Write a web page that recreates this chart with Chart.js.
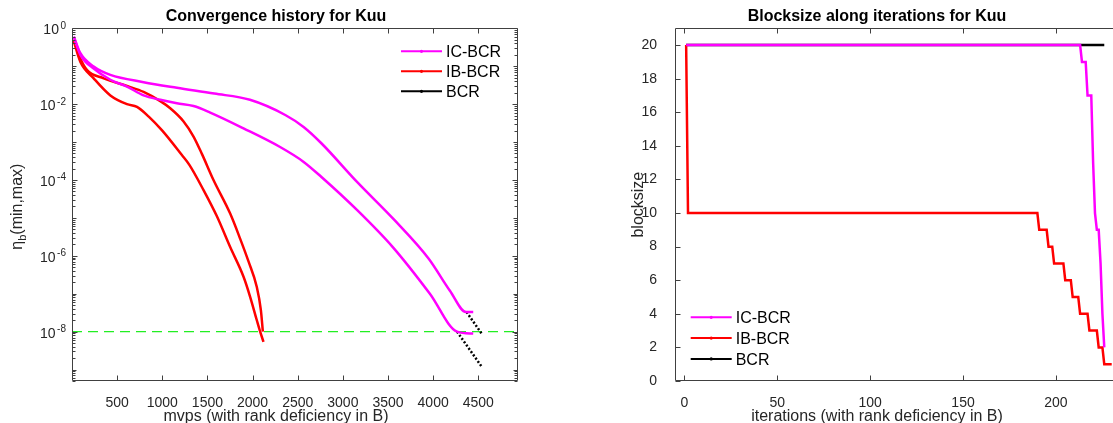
<!DOCTYPE html>
<html>
<head>
<meta charset="utf-8">
<title>Kuu: convergence history and blocksize</title>
<script src="https://cdn.jsdelivr.net/npm/chart.js@4.4.1/dist/chart.umd.min.js"></script>
<style>
  html, body { margin: 0; padding: 0; background: #fff; }
  body { width: 1113px; height: 423px; overflow: hidden; position: relative; }
  canvas { position: absolute; top: 0; }
  #conv { left: 0; }
  #block { left: 603px; }
</style>
</head>
<body>
<canvas id="conv" width="560" height="423"></canvas>
<canvas id="block" width="560" height="423"></canvas>
<script>
// left panel: eta_b (min and max) against mvps
const icMaxMvps = [20, 93, 240, 425, 793, 1162, 1576, 1971, 2367, 2565, 2762, 3157, 3573, 3949, 4186, 4364, 4444];
const icMaxEta = [0.6, 0.22, 0.098, 0.059, 0.038, 0.027, 0.019, 0.013, 5.1e-3, 2.5e-3, 9.3e-4, 8.9e-5, 8.7e-6, 8.5e-7, 1.2e-7, 3.3e-8, 3.3e-8];
const icMinMvps = [20, 93, 240, 425, 609, 793, 978, 1162, 1346, 1531, 1900, 2305, 2566, 2763, 3159, 3553, 3964, 4265, 4444];
const icMinEta = [0.6, 0.2, 0.087, 0.044, 0.029, 0.017, 0.013, 0.0105, 8.9e-3, 6.0e-3, 2.3e-3, 7.4e-4, 3.0e-4, 1.2e-4, 1.6e-5, 1.7e-6, 1.0e-7, 1.0e-8, 8.9e-9];

const ibMaxMvps = [20, 93, 167, 351, 609, 793, 978, 1088, 1236, 1346, 1440, 1567, 1752, 1863, 1955, 2047, 2092, 2114];
const ibMaxEta = [0.5, 0.16, 0.079, 0.048, 0.030, 0.021, 0.012, 7.8e-3, 3.5e-3, 1.4e-3, 4.8e-4, 1.0e-4, 1.3e-5, 2.8e-6, 7.1e-7, 1.5e-7, 3.7e-8, 1.0e-8];
const ibMinMvps = [20, 93, 240, 425, 609, 720, 850, 1000, 1215, 1300, 1457, 1605, 1752, 1900, 1973, 2047, 2084, 2121];
const ibMinEta = [0.45, 0.13, 0.048, 0.017, 0.010, 8.5e-3, 4.7e-3, 2.0e-3, 4.6e-4, 2.5e-4, 5.4e-5, 1.1e-5, 1.7e-6, 2.8e-7, 8.3e-8, 2.0e-8, 1.0e-8, 5.4e-9];

const bcrMaxMvps = [4370, 4537];
const bcrMaxEta = [3.3e-8, 8.9e-9];
const bcrMinMvps = [4265, 4537];
const bcrMinEta = [1.0e-8, 1.2e-9];

const tolMvps = [0, 4940];
const tolEta = [1e-8, 1e-8];

const convXTicks = [500, 1000, 1500, 2000, 2500, 3000, 3500, 4000, 4500];
const convYTicks = [1, 1e-2, 1e-4, 1e-6, 1e-8];

// right panel: blocksize per iteration (corner points of the steps)
const icIter = [1, 213, 214, 216, 217, 219, 220, 221, 222, 223, 224, 225, 226];
const icSize = [20, 20, 19, 19, 17, 17, 13, 10, 9, 9, 7, 4, 2];
const ibIter = [1, 2, 190, 191, 195, 196, 198, 199, 204, 205, 208, 209, 212, 213, 217, 218, 222, 223, 225, 226, 230];
const ibSize = [20, 10, 10, 9, 9, 8, 8, 7, 7, 6, 6, 5, 5, 4, 4, 3, 3, 2, 2, 1, 1];
const bcrIter = [1, 226];
const bcrSize = [20, 20];

const blockXTicks = [0, 50, 100, 150, 200];
const blockYTicks = [0, 2, 4, 6, 8, 10, 12, 14, 16, 18, 20];

const FONT = '"Liberation Sans", Arial, Helvetica, sans-serif';
const MAGENTA = "#ff00ff";
const RED = "#ff0000";
const BLACK = "#000000";
const AXIS = "#262626";

Chart.defaults.font.family = FONT;
Chart.defaults.color = AXIS;
Chart.defaults.animation = false;

const pts = (xs, ys) => xs.map((x, i) => ({ x, y: ys[i] }));

// box round the axes with inward ticks on all four sides
const framePlugin = {
  id: "frame",
  afterDatasetsDraw(chart, args, opts) {
    const { ctx, chartArea: a, scales } = chart;
    const L = Math.round(a.left) + 0.5;
    const R = Math.round(a.right) - 0.5;
    const T = Math.round(a.top) + 0.5;
    const B = Math.round(a.bottom) - 0.5;
    ctx.save();
    ctx.strokeStyle = opts.color;
    ctx.lineWidth = 1;
    ctx.beginPath();
    ctx.rect(L, T, R - L, B - T);

    for (const t of scales.x.ticks) {
      const px = Math.round(scales.x.getPixelForValue(t.value)) + 0.5;
      ctx.moveTo(px, B); ctx.lineTo(px, B - opts.major);
      ctx.moveTo(px, T); ctx.lineTo(px, T + opts.major);
    }

    const y = scales.y;
    const yTick = (v, len) => {
      const py = Math.round(y.getPixelForValue(v)) + 0.5;
      ctx.moveTo(L, py); ctx.lineTo(L + len, py);
      ctx.moveTo(R, py); ctx.lineTo(R - len, py);
    };
    if (y.type === "logarithmic") {
      const e0 = Math.floor(Math.log10(y.min));
      const e1 = Math.ceil(Math.log10(y.max));
      for (let e = e0; e <= e1; e += 1) {
        for (let k = 1; k <= 9; k += 1) {
          const v = k * Math.pow(10, e);
          if (v < y.min || v > y.max) continue;
          yTick(v, k === 1 ? (e % 2 === 0 ? opts.major : opts.mid) : opts.minor);
        }
      }
    } else {
      for (const t of y.ticks) yTick(t.value, opts.major);
    }
    ctx.stroke();
    ctx.restore();
  }
};

// 10^k labels with a real raised exponent, placed by the log scale
const powerTicks = {
  id: "powerTicks",
  afterDraw(chart, args, opts) {
    if (!opts.display) return;
    const { ctx, chartArea: a, scales } = chart;
    ctx.save();
    ctx.fillStyle = AXIS;
    ctx.textBaseline = "alphabetic";
    for (const t of scales.y.ticks) {
      const py = scales.y.getPixelForValue(t.value);
      const exp = String(Math.round(Math.log10(t.value)));
      ctx.font = `10px ${FONT}`;
      const wExp = ctx.measureText(exp).width;
      ctx.textAlign = "right";
      const right = a.left - opts.gap;
      ctx.fillText(exp, right, py + 0.5);
      ctx.font = `14px ${FONT}`;
      ctx.fillText("10", right - wExp - 1.5, py + 6);
    }
    ctx.restore();
  }
};

// title and x label, centred where the reference puts them
const captions = {
  id: "captions",
  afterDraw(chart, args, opts) {
    const { ctx, chartArea: a } = chart;
    const cx = (a.left + a.right) / 2 + opts.dx;
    ctx.save();
    ctx.textAlign = "center";
    ctx.textBaseline = "alphabetic";
    ctx.fillStyle = "#000";
    ctx.font = `bold 16px ${FONT}`;
    ctx.fillText(opts.title, cx, 20.7);
    ctx.fillStyle = AXIS;
    ctx.font = `16px ${FONT}`;
    ctx.fillText(opts.xlabel, cx, 421.3);
    ctx.restore();
  }
};

// legend drawn inside the axes, line sample with a dot in the middle
const lineLegend = {
  id: "lineLegend",
  afterDraw(chart, args, opts) {
    const { ctx, chartArea: a } = chart;
    const x0 = opts.fromRight ? a.right - opts.x : a.left + opts.x;
    const y0 = opts.fromBottom ? a.bottom - opts.y : a.top + opts.y;
    const items = chart.data.datasets.filter((d) => d.inLegend);
    ctx.save();
    ctx.font = `16px ${FONT}`;
    ctx.textBaseline = "alphabetic";
    items.forEach((d, i) => {
      const yy = y0 + i * opts.gap;
      ctx.strokeStyle = d.borderColor;
      ctx.lineWidth = 2;
      ctx.beginPath();
      ctx.moveTo(x0, yy);
      ctx.lineTo(x0 + 41, yy);
      ctx.stroke();
      ctx.fillStyle = d.borderColor;
      ctx.beginPath();
      ctx.arc(x0 + 20.5, yy, 1.6, 0, Math.PI * 2);
      ctx.fill();
      ctx.fillStyle = "#000";
      ctx.fillText(d.label, x0 + 45, yy + 5.8);
    });
    ctx.restore();
  }
};

// y label with a subscript: eta_b(min,max)
const etaLabel = {
  id: "etaLabel",
  afterDraw(chart, args, opts) {
    if (!opts.display) return;
    const { ctx, chartArea: a } = chart;
    const big = `16px ${FONT}`;
    const small = `11px ${FONT}`;
    ctx.save();
    ctx.font = big;
    const wEta = ctx.measureText("\u03b7").width;
    const wRest = ctx.measureText("(min,max)").width;
    ctx.font = small;
    const wSub = ctx.measureText("b").width;
    const total = wEta + wSub + wRest;
    ctx.translate(opts.x, (a.top + a.bottom) / 2 + opts.dy);
    ctx.rotate(-Math.PI / 2);
    ctx.fillStyle = AXIS;
    ctx.textBaseline = "alphabetic";
    let x = -total / 2;
    ctx.font = big;
    ctx.fillText("\u03b7", x, 5.5);
    x += wEta;
    ctx.font = small;
    ctx.fillText("b", x, 9.5);
    x += wSub;
    ctx.font = big;
    ctx.fillText("(min,max)", x, 5.5);
    ctx.restore();
  }
};

const tickFont = { family: FONT, size: 14 };
const labelFont = { family: FONT, size: 16, lineHeight: 1.2 };

const setTicks = (values) => (scale) => {
  scale.ticks = values.map((v) => ({ value: v }));
};

const baseOptions = (captionOpts, legendOpts) => ({
  responsive: false,
  animation: false,
  layout: { padding: { left: 0, right: 42, top: 28.3, bottom: 0 } },
  plugins: {
    legend: { display: false },
    tooltip: { enabled: false },
    title: { display: false },
    frame: { color: "#404040", major: 5, mid: 4, minor: 3 },
    captions: captionOpts,
    lineLegend: legendOpts,
    etaLabel: { display: false },
    powerTicks: { display: false }
  }
});

const curve = (label, color, xs, ys, extra = {}) => ({
  label,
  data: pts(xs, ys),
  borderColor: color,
  backgroundColor: color,
  borderWidth: 2.5,
  pointRadius: 0,
  fill: false,
  ...extra
});

const convOptions = baseOptions(
  { title: "Convergence history for Kuu", xlabel: "mvps (with rank deficiency in B)", dx: -19 },
  { fromRight: true, x: 117, y: 23, gap: 20 }
);
convOptions.plugins.etaLabel = { display: true, x: 16, dy: 2 };
convOptions.plugins.powerTicks = { display: true, gap: 6 };
convOptions.scales = {
  x: {
    type: "linear",
    min: 0,
    max: 4940,
    afterBuildTicks: setTicks(convXTicks),
    afterFit: (s) => { s.height = 42; },
    grid: { display: false },
    border: { display: false },
    ticks: { font: tickFont, padding: 6, maxRotation: 0, autoSkip: false, callback: (v) => String(v) }
  },
  y: {
    type: "logarithmic",
    min: 5e-10,
    max: 1,
    afterBuildTicks: setTicks(convYTicks),
    afterFit: (s) => { s.width = 72; },
    grid: { display: false },
    border: { display: false },
    ticks: { display: false }
  }
};

new Chart(document.getElementById("conv"), {
  type: "line",
  data: {
    datasets: [
      curve("IC-BCR", MAGENTA, icMaxMvps, icMaxEta, { inLegend: true, cubicInterpolationMode: "monotone" }),
      curve("IC-BCR min", MAGENTA, icMinMvps, icMinEta, { cubicInterpolationMode: "monotone" }),
      curve("IB-BCR", RED, ibMaxMvps, ibMaxEta, { inLegend: true, cubicInterpolationMode: "monotone" }),
      curve("IB-BCR min", RED, ibMinMvps, ibMinEta, { cubicInterpolationMode: "monotone" }),
      curve("BCR", BLACK, bcrMaxMvps, bcrMaxEta, { inLegend: true, borderDash: [2, 2] }),
      curve("BCR min", BLACK, bcrMinMvps, bcrMinEta, { borderDash: [2, 2] }),
      curve("tolerance", "#22ee22", tolMvps, tolEta, { borderWidth: 1.3, borderDash: [10, 6] })
    ]
  },
  options: convOptions,
  plugins: [framePlugin, powerTicks, captions, lineLegend, etaLabel]
});

const blockOptions = baseOptions(
  { title: "Blocksize along iterations for Kuu", xlabel: "iterations (with rank deficiency in B)", dx: -21 },
  { fromBottom: true, x: 15.7, y: 63.7, gap: 20.8 }
);
blockOptions.scales = {
  x: {
    type: "linear",
    min: -5,
    max: 235,
    afterBuildTicks: setTicks(blockXTicks),
    afterFit: (s) => { s.height = 42; },
    grid: { display: false },
    border: { display: false },
    ticks: { font: tickFont, padding: 6, maxRotation: 0, autoSkip: false, callback: (v) => String(v) }
  },
  y: {
    type: "linear",
    min: 0,
    max: 21,
    afterBuildTicks: setTicks(blockYTicks),
    afterFit: (s) => { s.width = 72; },
    grid: { display: false },
    border: { display: false },
    ticks: { font: tickFont, padding: 10, autoSkip: false, callback: (v) => String(v) },
    title: { display: true, text: "blocksize", font: labelFont, padding: { top: 25.9, bottom: 0 } }
  }
};

new Chart(document.getElementById("block"), {
  type: "line",
  data: {
    datasets: [
      curve("IC-BCR", MAGENTA, icIter, icSize, { inLegend: true }),
      curve("IB-BCR", RED, ibIter, ibSize, { inLegend: true }),
      curve("BCR", BLACK, bcrIter, bcrSize, { inLegend: true })
    ]
  },
  options: blockOptions,
  plugins: [framePlugin, captions, lineLegend]
});
</script>
</body>
</html>
